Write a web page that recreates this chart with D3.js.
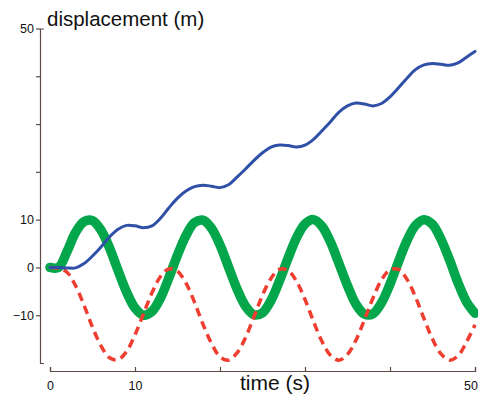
<!DOCTYPE html>
<html>
<head>
<meta charset="utf-8">
<script src="https://cdn.jsdelivr.net/npm/d3@7"></script>
<style>
    body { margin: 0; background: #fff; }
    svg { display: block; font-family: "Liberation Sans", Arial, sans-serif; }
    .axis path, .axis line { stroke: #5e4b45; stroke-width: 1.2; }
    .axis text { fill: #111; font-size: 12.5px; }
</style>
</head>
<body>
<div class="displacement-chart"></div>
<script>
"use strict";

// time samples (s)
const time = d3.range(0, 51);

// blue curve
const blue_values = [
    0, 0, -0.1, -0.1, 0.8, 2.4, 4.3, 6.4, 8.0, 8.8,
    8.7, 8.3, 8.7, 10.3, 12.5, 14.5, 16.0, 16.9, 17.2, 17.0,
    16.7, 17.3, 18.9, 20.6, 22.4, 24.0, 25.2, 25.6, 25.5, 25.2,
    25.6, 26.8, 28.6, 30.5, 32.5, 33.8, 34.4, 34.2, 33.8, 34.3,
    35.7, 37.6, 39.6, 41.4, 42.4, 42.7, 42.5, 42.3, 42.8, 44.0,
    45.2
];

// thick green curve
const green_values = [
    0, 0, 3.3, 7.3, 9.6, 9.8, 7.8, 4.1, -0.6, -5.1,
    -8.5, -10.0, -9.2, -6.4, -2.1, 2.6, 6.7, 9.4, 9.9, 8.2,
    4.7, 0.1, -4.5, -8.1, -9.9, -9.5, -6.9, -2.8, 1.9, 6.2,
    9.1, 10.0, 8.6, 5.3, 0.8, -3.8, -7.7, -9.8, -9.7, -7.4,
    -3.5, 1.2, 5.6, 8.8, 10.0, 9.0, 5.9, 1.6, -3.2, -7.2,
    -9.6
];

// red dashed curve
const red_values = [
    0, -0.2, -1.0, -3.8, -7.9, -12.5, -16.4, -18.9, -19.3, -17.6,
    -14.1, -9.7, -5.3, -1.9, -0.3, -0.8, -3.3, -7.3, -11.9, -15.9,
    -18.7, -19.4, -17.9, -14.7, -10.3, -5.8, -2.3, -0.4, -0.6, -2.9,
    -6.7, -11.3, -15.5, -18.4, -19.4, -18.2, -15.2, -10.9, -6.4, -2.6,
    -0.5, -0.4, -2.5, -6.2, -10.7, -15.0, -18.1, -19.4, -18.5, -15.6,
    -12.0
];

const y_ticks = [50, 40, 30, 20, 10, 0, -10];
const y_labelled = [50, 10, 0, -10];
const x_ticks = [0, 10, 20, 30, 40, 50];
const x_labelled = [0, 10, 50];

window.onload = () => main();

function main() {
    const config = {
        width: 478,
        height: 398,
        x_range: [50, 475],
        y_range: [363, 28.5],
        x_axis_y: 371,
        y_axis_x: 40
    };
    draw_chart(config);
}

function draw_chart(config) {
    const svg = d3.select(".displacement-chart")
        .append("svg")
        .attr("width", config.width)
        .attr("height", config.height);

    const x = d3.scaleLinear().domain([0, 50]).range(config.x_range);
    const y = d3.scaleLinear().domain([-20, 50]).range(config.y_range);

    // y axis: small ticks to the left, end caps turned inwards
    svg.append("g")
        .attr("class", "axis")
        .attr("transform", `translate(${config.y_axis_x},0)`)
        .call(d3.axisLeft(y)
            .tickValues(y_ticks)
            .tickSizeInner(4)
            .tickSizeOuter(-4)
            .tickPadding(2)
            .tickFormat(d => y_labelled.includes(d) ? d3.format("d")(d) : ""))
        .call(g => g.selectAll("text").attr("font-family", null).attr("font-size", null));

    // x axis: ticks point up
    svg.append("g")
        .attr("class", "axis")
        .attr("transform", `translate(0,${config.x_axis_y})`)
        .call(d3.axisBottom(x)
            .tickValues(x_ticks)
            .tickSizeInner(-4)
            .tickSizeOuter(-4)
            .tickPadding(10)
            .tickFormat(d => x_labelled.includes(d) ? d : ""))
        .call(g => g.selectAll("text").attr("font-family", null).attr("font-size", null))
        // last label sits on the right edge, keep it inside the page
        .call(g => g.selectAll("text").filter(d => d === 50).attr("text-anchor", "end").attr("dx", "0.2em"));

    svg.append("text")
        .attr("x", 47)
        .attr("y", 26)
        .attr("font-size", 20.5)
        .attr("fill", "#111")
        .text("displacement (m)");

    svg.append("text")
        .attr("x", 275)
        .attr("y", 390)
        .attr("text-anchor", "middle")
        .attr("font-size", 21)
        .attr("fill", "#111")
        .text("time (s)");

    const line = d3.line()
        .x(d => x(d[0]))
        .y(d => y(d[1]))
        .curve(d3.curveCatmullRom.alpha(0.5));

    const series = [
        { values: green_values, color: "#04a64b", width: 9.5, dash: null },
        { values: red_values, color: "#ef3e30", width: 3.5, dash: "8.5,5.5" },
        { values: blue_values, color: "#2f50a6", width: 3, dash: null }
    ];

    svg.selectAll(".series")
        .data(series)
        .enter()
        .append("path")
        .attr("class", "series")
        .attr("fill", "none")
        .attr("stroke", d => d.color)
        .attr("stroke-width", d => d.width)
        .attr("stroke-dasharray", d => d.dash)
        .attr("stroke-linecap", d => d.dash ? "butt" : "round")
        .attr("stroke-linejoin", "round")
        .attr("d", d => line(time.map((t, i) => [t, d.values[i]])));
}
</script>
</body>
</html>
